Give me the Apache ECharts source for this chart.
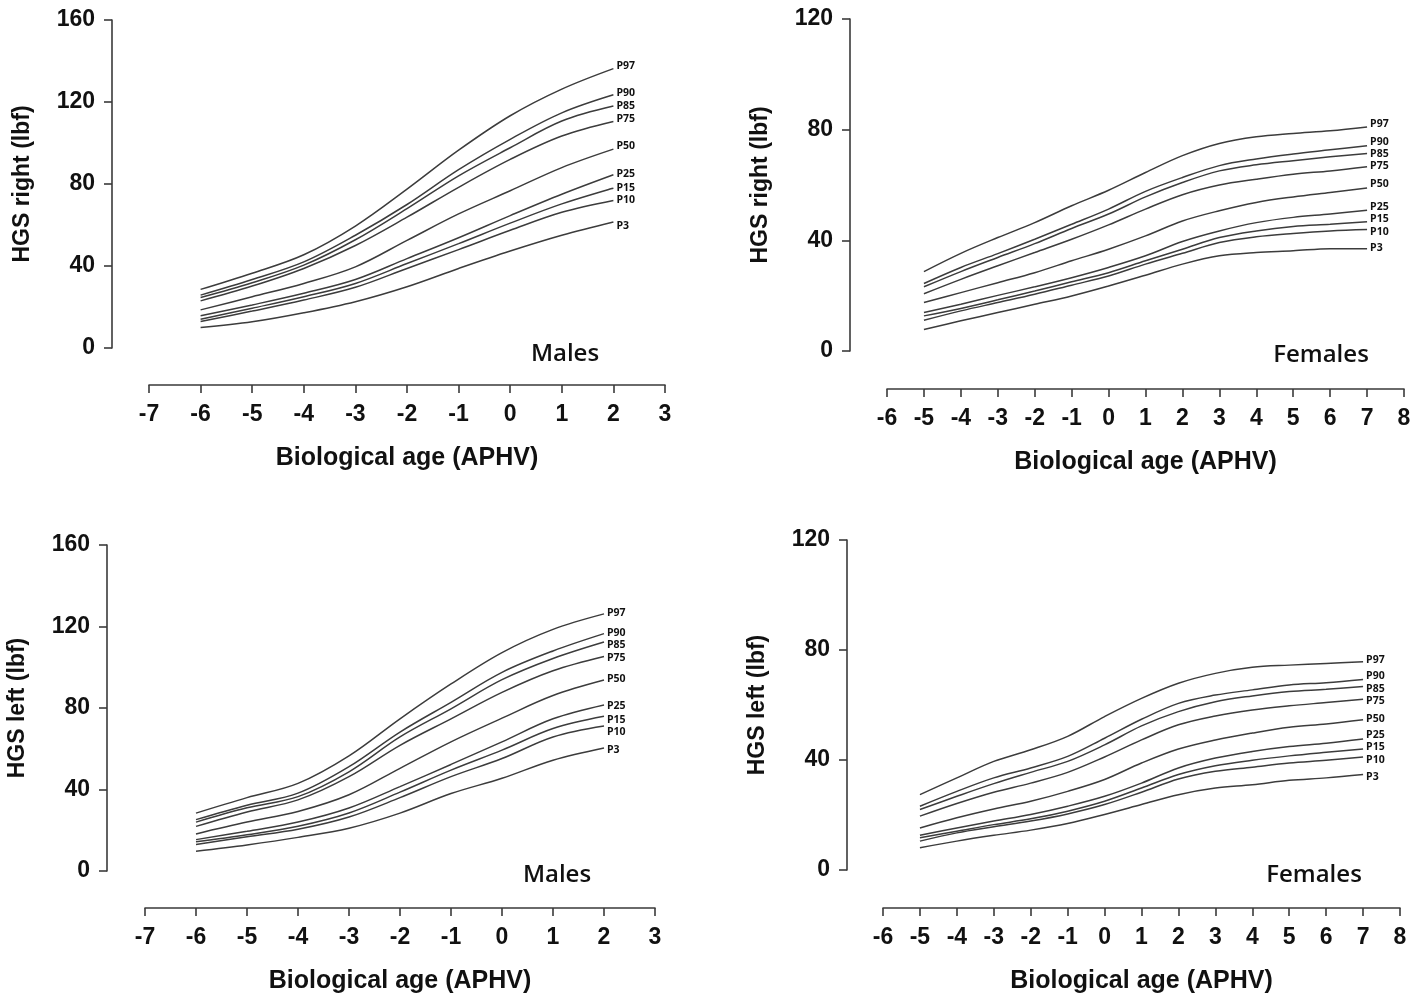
<!DOCTYPE html>
<html>
<head>
<meta charset="utf-8">
<script src="https://cdn.jsdelivr.net/npm/echarts@6/dist/echarts.min.js"></script>
<style>
html,body{margin:0;padding:0;background:#fff;}
#c{width:1424px;height:995px;}
</style>
</head>
<body>
<div id="c"></div>
<script>
// ---------- data ----------
const percentiles = ['P3','P10','P15','P25','P50','P75','P85','P90','P97'];
const maleAges = [-6,-5,-4,-3,-2,-1,0,1,2];
const femaleAges = [-5,-4,-3,-2,-1,0,1,2,3,4,5,6,7];

const maleXTicks = [-7,-6,-5,-4,-3,-2,-1,0,1,2,3];
const femaleXTicks = [-6,-5,-4,-3,-2,-1,0,1,2,3,4,5,6,7,8];
const maleYTicks = [0,40,80,120,160];
const femaleYTicks = [0,40,80,120];

// Males, right hand (rows follow percentiles order)
const maleRightP3  = [10, 12.8, 17.2, 22.6, 29.9, 38.8, 47.3, 55, 61.5];
const maleRightP10 = [12.9, 18, 23.4, 29.6, 38.8, 48, 57.4, 66.2, 72];
const maleRightP15 = [14, 19.4, 25, 31.5, 41.2, 50.9, 60.9, 70.3, 78];
const maleRightP25 = [15.7, 21, 26.7, 33.4, 43.6, 53.8, 64.6, 75, 84.5];
const maleRightP50 = [18.6, 25, 31.5, 39.6, 52.5, 65.4, 76.7, 88, 97];
const maleRightP75 = [23, 30.2, 38.8, 50, 63.8, 78.4, 92, 103.4, 110.5];
const maleRightP85 = [24.6, 31.8, 40.4, 52.8, 68, 84, 97.7, 110.7, 118];
const maleRightP90 = [25.8, 33.4, 42, 55, 70, 87, 101.8, 114.7, 123.5];
const maleRightP97 = [28.6, 36.5, 45.5, 59.5, 77.5, 96.5, 113.3, 126.3, 136.3];

// Females, right hand
const femaleRightP3  = [7.8, 10.9, 13.9, 16.9, 19.9, 23.5, 27.4, 31.4, 34.4, 35.6, 36.2, 37, 37];
const femaleRightP10 = [11.1, 14.5, 17.5, 20.5, 23.8, 27.1, 31.4, 35.3, 39.2, 41.3, 42.5, 43.4, 43.9];
const femaleRightP15 = [12.7, 15.4, 18.5, 21.7, 25, 28.3, 32.6, 36.8, 41, 43.4, 45, 45.8, 46.7];
const femaleRightP25 = [13.9, 16.9, 20.1, 23.2, 26.5, 30.2, 34.4, 39.6, 43.4, 46.4, 48.3, 49.5, 50.9];
const femaleRightP50 = [17.5, 21.1, 24.7, 28.3, 32.6, 36.8, 41.6, 47, 50.7, 53.7, 55.7, 57.3, 58.9];
const femaleRightP75 = [20.7, 25.9, 30.8, 35.6, 40.4, 45.6, 51.3, 56.5, 60, 62.1, 63.9, 65.1, 66.6];
const femaleRightP85 = [23.2, 28.7, 33.8, 38.8, 44.3, 49.5, 55.7, 60.9, 65.1, 67.3, 68.8, 70.2, 71.4];
const femaleRightP90 = [24.4, 30.2, 35.2, 40.4, 45.8, 51.3, 57.7, 62.7, 67, 69.4, 71.2, 72.7, 74.2];
const femaleRightP97 = [28.7, 35.3, 41, 46.4, 52.5, 58.1, 64.5, 70.6, 75, 77.4, 78.6, 79.6, 81];

// Males, left hand
const maleLeftP3  = [9.7, 12.8, 16.5, 21, 28.4, 38, 45.5, 54.4, 60.4];
const maleLeftP10 = [13, 16.8, 20.5, 26.5, 36, 46.3, 55.2, 65.8, 71.2];
const maleLeftP15 = [14.3, 17.8, 22, 28.5, 38.7, 49.5, 59.3, 69.9, 75.9];
const maleLeftP25 = [15.4, 19.5, 24, 30.9, 41.4, 52.3, 63.4, 74.7, 81.5];
const maleLeftP50 = [18.2, 24, 29.2, 37.4, 50.4, 63.4, 75, 86.1, 93.7];
const maleLeftP75 = [21.9, 29, 34.9, 46.3, 61.7, 74.7, 87.7, 98.3, 105.3];
const maleLeftP85 = [24, 31, 36.5, 48.7, 65.8, 79.6, 93.9, 104.3, 112.4];
const maleLeftP90 = [25.2, 32.3, 38.2, 51.2, 68.2, 82.8, 97.5, 108, 116.5];
const maleLeftP97 = [28.4, 36, 43, 56.5, 74.7, 91.8, 107.2, 118.6, 126.2];

// Females, left hand
const femaleLeftP3  = [8.1, 10.5, 12.6, 14.5, 16.9, 20.2, 23.8, 27.4, 29.8, 31, 32.6, 33.5, 34.7];
const femaleLeftP10 = [10.5, 13.5, 15.7, 17.8, 20.4, 23.8, 28.3, 33.1, 35.9, 37.4, 38.9, 39.9, 41.1];
const femaleLeftP15 = [11.7, 14.1, 16.5, 18.6, 21.4, 25, 29.8, 34.7, 37.9, 39.9, 41.5, 42.8, 44];
const femaleLeftP25 = [12.6, 15.3, 17.8, 20.2, 23.2, 26.8, 31.6, 37.1, 40.7, 43.1, 44.9, 46.1, 47.6];
const femaleLeftP50 = [15.3, 19, 22.2, 25, 28.6, 32.9, 38.9, 44, 47.3, 49.8, 51.9, 53.1, 54.6];
const femaleLeftP75 = [19.6, 24.2, 28.3, 31.6, 35.5, 41.1, 47.3, 52.8, 56, 58.2, 59.7, 60.9, 62.1];
const femaleLeftP85 = [22, 26.8, 31.4, 35.5, 39.5, 45.5, 52.4, 57.6, 61.2, 63.3, 64.9, 65.7, 66.7];
const femaleLeftP90 = [23.2, 28.6, 33.5, 37.1, 41.3, 47.9, 54.8, 60.6, 63.6, 65.5, 67.3, 68.1, 69.3];
const femaleLeftP97 = [27.4, 33.5, 39.5, 43.7, 48.6, 55.8, 62.4, 67.9, 71.5, 73.7, 74.5, 75.1, 75.7];

const panelTitles = ['Males','Females','Males','Females'];
const yAxisTitles = ['HGS right (lbf)','HGS right (lbf)','HGS left (lbf)','HGS left (lbf)'];
const xAxisTitle = 'Biological age (APHV)';

// ---------- layout / style ----------
const panels = [
  {ages: maleAges, xt: maleXTicks, yt: maleYTicks,
   rows: [maleRightP3,maleRightP10,maleRightP15,maleRightP25,maleRightP50,maleRightP75,maleRightP85,maleRightP90,maleRightP97],
   lblDy: [4,0,0,-1,-3,-2,0,-2,-3],
   grid: {left:149, top:20, width:516, height:328}, yOff:37, xOff:37, tx:565, ty:354},
  {ages: femaleAges, xt: femaleXTicks, yt: femaleYTicks,
   rows: [femaleRightP3,femaleRightP10,femaleRightP15,femaleRightP25,femaleRightP50,femaleRightP75,femaleRightP85,femaleRightP90,femaleRightP97],
   lblDy: [-1,2,-3,-3,-4,-1,1,-4,-3],
   grid: {left:887, top:19, width:517, height:332}, yOff:37, xOff:38, tx:1321, ty:355},
  {ages: maleAges, xt: maleXTicks, yt: maleYTicks,
   rows: [maleLeftP3,maleLeftP10,maleLeftP15,maleLeftP25,maleLeftP50,maleLeftP75,maleLeftP85,maleLeftP90,maleLeftP97],
   lblDy: [2,6,4,1,-1,2,3,-1,-1],
   grid: {left:145, top:545, width:510, height:328}, yOff:38, xOff:37, tx:557, ty:875},
  {ages: femaleAges, xt: femaleXTicks, yt: femaleYTicks,
   rows: [femaleLeftP3,femaleLeftP10,femaleLeftP15,femaleLeftP25,femaleLeftP50,femaleLeftP75,femaleLeftP85,femaleLeftP90,femaleLeftP97],
   lblDy: [2,3,-2,-4,-1,2,2,-3,-2],
   grid: {left:883, top:540, width:517, height:332}, yOff:36, xOff:38, tx:1314, ty:875}
];

const axisCol = '#3a3a3a';
const fam = 'Liberation Sans, Arial, sans-serif';
const labelFont = {fontFamily:fam, fontWeight:'bold', fontSize:23, color:'#111'};

const grids = [], xAxes = [], yAxes = [], series = [], graphics = [];
panels.forEach((p, i) => {
  grids.push(Object.assign({containLabel:false}, p.grid));
  const xt = p.xt, yt = p.yt;
  xAxes.push({
    type:'value', gridIndex:i, min:xt[0], max:xt[xt.length-1], interval:1,
    offset:p.xOff, position:'bottom',
    axisLine:{show:true, onZero:false, lineStyle:{color:axisCol, width:1.6}},
    axisTick:{show:true, length:8, inside:false, lineStyle:{color:axisCol, width:1.6}},
    splitLine:{show:false},
    axisLabel:Object.assign({margin:18, showMinLabel:true, showMaxLabel:true}, labelFont),
    name: xAxisTitle, nameLocation:'middle', nameGap:61,
    nameTextStyle:{fontFamily:fam, fontWeight:'bold', fontSize:25, color:'#111'}
  });
  yAxes.push({
    type:'value', gridIndex:i, min:yt[0], max:yt[yt.length-1], interval:40,
    offset:p.yOff, position:'left',
    axisLine:{show:true, onZero:false, lineStyle:{color:axisCol, width:1.6}},
    axisTick:{show:true, length:8, lineStyle:{color:axisCol, width:1.6}},
    splitLine:{show:false},
    axisLabel:Object.assign({margin:17, showMinLabel:true, showMaxLabel:true}, labelFont),
    name: yAxisTitles[i], nameLocation:'middle', nameGap:78,
    nameTextStyle:{fontFamily:fam, fontWeight:'bold', fontSize:23, color:'#111'}
  });
  p.rows.forEach((vals, k) => {
    series.push({
      name: percentiles[k], type:'line', xAxisIndex:i, yAxisIndex:i,
      data: p.ages.map((a, j) => [a, vals[j]]),
      smooth:0.35, symbol:'none', silent:true,
      lineStyle:{color:'#3c3c3c', width:1.5},
      endLabel:{show:true, formatter: percentiles[k], distance:3, offset:[0, p.lblDy[k]],
        fontFamily:'Open Sans, Lato, sans-serif', fontWeight:'bold', fontSize:10.5, color:'#111'}
    });
  });
  graphics.push({
    type:'text', x:p.tx, y:p.ty,
    style:{text:panelTitles[i], fontFamily:'Open Sans, sans-serif', fontWeight:600, fontSize:24,
      fill:'#111', textAlign:'center', textVerticalAlign:'middle'}
  });
});

const chart = echarts.init(document.getElementById('c'), null, {renderer:'canvas'});
chart.setOption({
  backgroundColor:'#fff',
  animation:false,
  grid: grids, xAxis: xAxes, yAxis: yAxes, series: series,
  graphic: graphics
});
</script>
</body>
</html>
